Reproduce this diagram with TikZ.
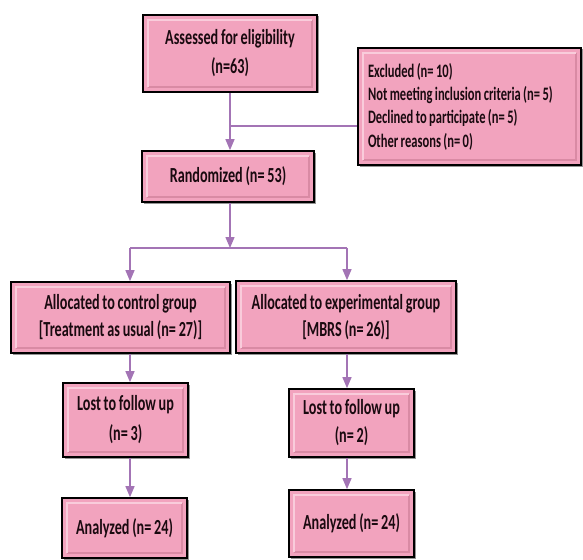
\documentclass[tikz,border=0pt]{standalone}
\usepackage{fontspec}
\newfontfamily\boxfont[FakeStretch=0.66,WordSpace=0.85]{Carlito}
\usepackage{tikz}
\usetikzlibrary{arrows.meta,positioning,calc,shadows}
\definecolor{boxpink}{HTML}{F2A3BE}
\definecolor{boxlight}{HTML}{F9CCDB}
\definecolor{boxdark}{HTML}{D98AA4}
\definecolor{boxtext}{HTML}{1A0A10}
\definecolor{arrowpurple}{HTML}{A374B5}
\tikzset{
  flow_box/.style={draw=black,line width=1.6pt,fill=boxpink,rectangle,align=center,
    text=boxtext,font=\boxfont\bfseries\fontsize{21.5}{29}\selectfont,inner sep=2pt,
    drop shadow={shadow xshift=1.5pt,shadow yshift=-1.5pt,fill=black!60,opacity=0.7},
    path picture={
      \draw[boxdark,line width=1.4pt]
        ([shift={(5pt,5pt)}]path picture bounding box.south west) --
        ([shift={(-5pt,5pt)}]path picture bounding box.south east) --
        ([shift={(-5pt,-5pt)}]path picture bounding box.north east);
      \draw[boxlight,line width=1.4pt]
        ([shift={(5pt,5pt)}]path picture bounding box.south west) --
        ([shift={(5pt,-5pt)}]path picture bounding box.north west) --
        ([shift={(-5pt,-5pt)}]path picture bounding box.north east);
    }},
  list_box/.style={flow_box,align=flush left,text width=203pt,inner xsep=10pt,
    font=\boxfont\bfseries\fontsize{19}{23.3}\selectfont},
  arr/.style={-{Triangle[length=11pt,width=9pt]},draw=arrowpurple,line width=1.3pt},
  link/.style={draw=arrowpurple,line width=1.3pt},
}
\begin{document}
\begin{tikzpicture}[x=1pt,y=-1pt]
    \useasboundingbox (0,0) rectangle (583,559);
    \node[flow_box,minimum width=174pt,minimum height=77pt] (assess) at (230,53.5) {Assessed for eligibility\\(n=63)};
    \node[list_box,minimum height=117pt] (excl) at (469.5,106.5) {Excluded (n= 10)\\Not meeting inclusion criteria (n= 5)\\Declined to participate (n= 5)\\Other reasons (n= 0)};
    \node[flow_box,minimum width=172pt,minimum height=51pt] (rand) at (228,176.5) {Randomized (n= 53)};
    \node[flow_box,minimum width=219pt,minimum height=71pt,font=\boxfont\bfseries\fontsize{21.5}{27}\selectfont] (ctrl) at (120.5,317.5) {Allocated to control group\\{}[Treatment as usual (n= 27)]};
    \node[flow_box,minimum width=220pt,minimum height=72pt,font=\boxfont\bfseries\fontsize{21.5}{27}\selectfont] (exp) at (346,317) {Allocated to experimental group\\{}[MBRS (n= 26)]};
    \node[flow_box,minimum width=125pt,minimum height=74pt,font=\boxfont\bfseries\fontsize{21.5}{30}\selectfont] (lost1) at (125.5,420) {Lost to follow up\\(n= 3)};
    \node[flow_box,minimum width=125pt,minimum height=60pt] (ana1) at (124.5,528) {Analyzed (n= 24)};
    \node[flow_box,minimum width=125pt,minimum height=68pt,font=\boxfont\bfseries\fontsize{21.5}{28}\selectfont] (lost2) at (351.5,423) {Lost to follow up\\(n= 2)};
    \node[flow_box,minimum width=125pt,minimum height=67pt] (ana2) at (351.5,523.5) {Analyzed (n= 24)};
    % junction points
    \coordinate (junc) at (230,126);
    \coordinate (split) at (230,248);
    \coordinate (splitL) at (130,248);
    \coordinate (splitR) at (347,248);
    \draw[arr] (assess.south) -- (assess.south |- rand.north);
    \draw[link] (junc) -- (junc -| excl.west);
    \draw[arr] (split |- rand.south) -- (split);
    \draw[link] (splitL) -- (splitR);
    \draw[arr] (splitL) -- (splitL |- ctrl.north);
    \draw[arr] (splitR) -- (splitR |- exp.north);
    \draw[arr] (splitL |- ctrl.south) -- (splitL |- lost1.north);
    \draw[arr] (splitL |- lost1.south) -- (splitL |- ana1.north);
    \draw[arr] (splitR |- exp.south) -- (splitR |- lost2.north);
    \draw[arr] (splitR |- lost2.south) -- (splitR |- ana2.north);
\end{tikzpicture}
\end{document}
